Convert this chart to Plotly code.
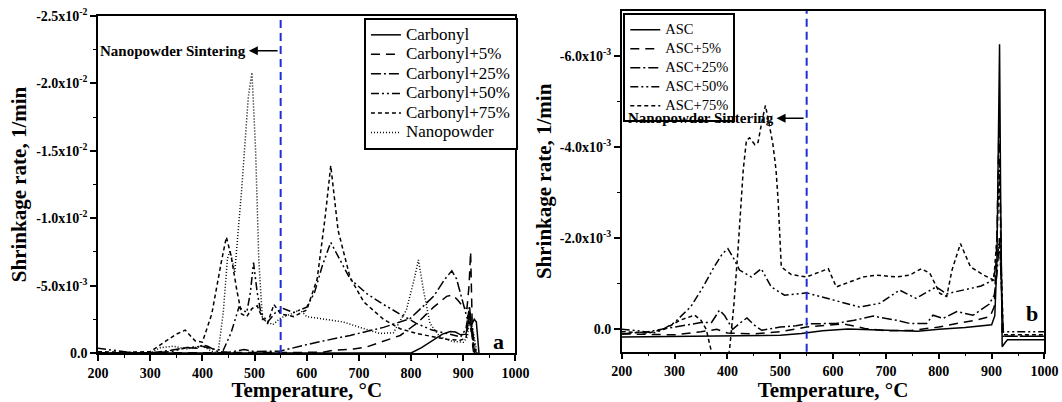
import numpy as np
import plotly.graph_objects as go

# ---------------- data (shrinkage rate in units of 1e-3 1/min) ----------------
# Panel a
T_CARB = [200, 800, 820, 843, 860, 875, 885, 895, 905, 909, 912, 915, 918, 921, 925, 928, 930]
CARB = [0, 0, -0.4, -0.95, -1.4, -1.6, -1.55, -1.35, -1.4, -2.2, -3.0, -2.0, -2.2, -2.5, -2.3, -1.0, 0]

T_C5 = [200, 600, 630, 651, 690, 715, 747, 779, 811, 843, 868, 880, 890, 900, 907, 911, 914, 916, 918, 920]
C5 = [0, 0, -0.05, -0.2, -0.3, -0.45, -0.9, -1.3, -2.2, -3.4, -4.2, -4.3, -3.9, -3.4, -3.3, -5.0, -7.5, -4.0, -0.5, 0]

T_C25 = [200, 300, 340, 370, 390, 400, 410, 430, 450, 480, 500, 550, 587, 620, 683, 747, 798, 843, 865, 878, 887, 900, 908, 912, 916, 922]
C25 = [0, 0, -0.2, -0.4, -0.35, -0.6, -0.5, -0.1, -0.05, -0.25, -0.1, -0.15, -0.5, -0.8, -1.3, -1.9, -2.55, -4.2, -5.5, -6.1, -5.5, -3.7, -2.5, -3.5, -1.5, 0]

T_C50 = [200, 230, 260, 300, 340, 370, 400, 420, 440, 455, 470, 485, 492, 498, 505, 512, 525, 540, 555, 575, 600, 615, 630, 646, 665, 683, 715, 747, 778, 810, 840, 870, 895, 905, 911, 915, 920, 925]
C50 = [-0.35, -0.2, -0.05, 0, -0.1, -0.4, -0.5, -0.3, -0.2, -1.5, -3.4, -3.0, -4.5, -6.7, -4.5, -3.0, -2.3, -3.0, -3.3, -3.0, -3.4, -4.5, -6.5, -8.2, -6.8, -5.5, -4.4, -3.6, -2.9, -2.2, -1.7, -1.4, -1.2, -1.8, -3.2, -2.5, -1.0, 0]

T_C75 = [200, 250, 300, 330, 350, 367, 386, 400, 418, 437, 446, 455, 466, 475, 485, 495, 505, 515, 525, 537, 550, 575, 600, 620, 635, 646, 660, 683, 709, 747, 779, 810, 843, 870, 894, 905, 911, 915, 920, 925]
C75 = [-0.1, -0.05, -0.1, -0.9, -1.4, -1.7, -0.9, -0.8, -2.9, -6.9, -8.6, -7.2, -4.65, -2.9, -2.7, -3.3, -3.5, -2.6, -2.2, -3.6, -2.9, -2.7, -3.2, -5.5, -10.0, -13.9, -9.1, -5.6, -3.8, -2.5, -1.8, -1.45, -1.2, -1.0, -0.95, -1.1, -2.5, -1.5, -0.5, 0]

T_NANO = [200, 300, 320, 345, 370, 400, 420, 430, 440, 448, 453, 462, 475, 488, 495, 502, 508, 515, 535, 550, 570, 587, 600, 625, 651, 670, 702, 740, 766, 791, 806, 814, 824, 836, 855, 880, 900, 908, 913, 917, 922, 926]
NANO = [0, 0, -0.4, -0.5, -0.3, -0.5, -0.1, 0, -3.0, -7.0, -7.6, -6.0, -12.0, -19.0, -20.8, -15.0, -7.0, -2.5, -2.1, -2.6, -2.9, -3.2, -2.7, -2.55, -2.4, -2.3, -1.9, -1.45, -1.5, -3.2, -5.5, -6.9, -4.6, -2.2, -1.2, -0.85, -0.8, -1.2, -3.0, -2.0, -1.0, 0]

# Panel b
T_ASC = [200, 300, 400, 500, 540, 580, 628, 700, 760, 800, 850, 900, 906, 910, 915, 917, 920, 925, 930, 1000]
ASC = [0.17, 0.16, 0.15, 0.13, 0.09, 0.03, -0.01, 0.02, 0.04, 0.0, -0.04, -0.1, -0.3, -1.5, -6.25, -3.0, 0.38, 0.3, 0.23, 0.23]

T_A5 = [200, 260, 300, 350, 380, 400, 450, 500, 550, 600, 620, 660, 700, 750, 800, 834, 870, 897, 905, 910, 914, 917, 920, 925, 1000]
A5 = [0.1, 0.12, 0.12, 0.05, 0.0, 0.08, 0.1, 0.05, -0.05, -0.1, -0.12, -0.02, 0.03, 0.02, -0.05, -0.13, -0.2, -0.28, -0.5, -2.0, -4.5, -2.5, 0.15, 0.15, 0.15]

T_A25 = [200, 250, 300, 350, 370, 385, 395, 410, 425, 437, 450, 465, 500, 530, 550, 580, 606, 640, 676, 720, 745, 777, 789, 808, 834, 865, 895, 905, 910, 915, 918, 922, 1000]
A25 = [0.1, 0.05, -0.05, -0.15, -0.15, -0.42, -0.3, 0.0, -0.15, -0.25, -0.1, 0.02, -0.05, -0.08, -0.12, -0.12, -0.13, -0.2, -0.29, -0.2, -0.13, -0.13, -0.31, -0.24, -0.39, -0.31, -0.55, -0.75, -1.2, -2.0, -1.0, 0.15, 0.15]

T_A50 = [200, 230, 260, 275, 300, 331, 355, 375, 390, 401, 412, 423, 445, 464, 483, 508, 550, 600, 650, 688, 726, 757, 795, 815, 846, 880, 903, 910, 915, 918, 922, 1000]
A50 = [0.0, 0.03, 0.08, 0.02, -0.15, -0.5, -0.95, -1.37, -1.65, -1.77, -1.55, -1.3, -1.15, -1.33, -0.93, -0.75, -0.8, -0.64, -0.49, -0.57, -0.86, -0.68, -0.93, -0.78, -0.86, -0.95, -1.08, -1.5, -2.0, -1.0, 0.05, 0.05]

T_A75 = [200, 250, 280, 310, 338, 350, 360, 369, 380, 398, 404, 412, 420, 430, 436, 442, 452, 458, 466, 472, 479, 486, 492, 496, 502, 521, 550, 575, 591, 606, 657, 682, 720, 745, 767, 783, 802, 815, 825, 841, 860, 885, 904, 910, 915, 918, 922, 1000]
A75 = [0.05, 0.08, 0.0, -0.2, -0.31, -0.2, 0.0, 0.45, 0.8, 0.8, 0.45, -0.5, -1.73, -3.5, -4.14, -4.2, -4.05, -4.1, -4.6, -4.91, -4.5, -4.07, -3.5, -2.83, -1.37, -1.2, -1.15, -1.25, -1.33, -0.93, -1.15, -1.19, -1.15, -1.19, -1.33, -1.23, -0.79, -0.72, -1.3, -1.88, -1.37, -1.19, -1.08, -2.0, -3.5, -1.5, 0.12, 0.12]

# tick labels
X_TICKS = [200, 300, 400, 500, 600, 700, 800, 900, 1000]
YA_TICKVALS = [0, -0.005, -0.010, -0.015, -0.020, -0.025]
YA_TICKTEXT = ["0.0", "-5.0x10<sup>-3</sup>", "-1.0x10<sup>-2</sup>", "-1.5x10<sup>-2</sup>",
               "-2.0x10<sup>-2</sup>", "-2.5x10<sup>-2</sup>"]
YA_MINOR = [-0.0025, -0.0075, -0.0125, -0.0175, -0.0225]
YB_TICKVALS = [0, -0.002, -0.004, -0.006]
YB_TICKTEXT = ["0.0", "-2.0x10<sup>-3</sup>", "-4.0x10<sup>-3</sup>", "-6.0x10<sup>-3</sup>"]
YB_MINOR = [-0.001, -0.003, -0.005]

SINTER_T = 550

# ---------------- figure ----------------
FONT = "Liberation Serif"
SCALE = 1e-3

fig = go.Figure()

styles = {
    "solid": "solid",
    "long": "9px,6px",
    "dashdot": "10px,3px,2px,3px",
    "dashdotdot": "8px,3px,2px,3px,2px,3px",
    "short": "4px,3px",
    "dot": "1px,2px",
}

def legend_label(text, size):
    return "<span style='font-size:%spx'>%s</span>" % (size, text)

left_series = [
    ("Carbonyl", T_CARB, CARB, "solid"),
    ("Carbonyl+5%", T_C5, C5, "long"),
    ("Carbonyl+25%", T_C25, C25, "dashdot"),
    ("Carbonyl+50%", T_C50, C50, "dashdotdot"),
    ("Carbonyl+75%", T_C75, C75, "short"),
    ("Nanopowder", T_NANO, NANO, "dot"),
]
for name, t, v, st in left_series:
    fig.add_trace(go.Scatter(x=t, y=np.array(v) * SCALE, mode="lines", name=legend_label(name, 17),
                             line=dict(color="black", width=1.5, dash=styles[st]),
                             xaxis="x", yaxis="y", legend="legend"))

right_series = [
    ("ASC", T_ASC, ASC, "solid"),
    ("ASC+5%", T_A5, A5, "long"),
    ("ASC+25%", T_A25, A25, "dashdot"),
    ("ASC+50%", T_A50, A50, "dashdotdot"),
    ("ASC+75%", T_A75, A75, "short"),
]
for name, t, v, st in right_series:
    fig.add_trace(go.Scatter(x=t, y=np.array(v) * SCALE, mode="lines", name=legend_label(name, 14.5),
                             line=dict(color="black", width=1.5, dash=styles[st]),
                             xaxis="x2", yaxis="y2", legend="legend2"))

tickfont = dict(family=FONT, size=14, color="black", weight="bold")
titlefont = dict(family=FONT, size=21, color="black", weight="bold")

def axis_common():
    return dict(showline=True, linecolor="black", linewidth=1.5, mirror=True,
                ticks="outside", ticklen=6, tickwidth=1.5, tickcolor="black",
                showgrid=False, zeroline=False, tickfont=tickfont, automargin=False)

xa = axis_common()
xa.update(domain=[0.0923, 0.4854], range=[200, 1000], tickmode="array", tickvals=X_TICKS,
          minor=dict(ticks="outside", ticklen=3, tickwidth=1.2, tickcolor="black", dtick=50, tick0=200),
          title=dict(text="Temperature, °C", font=titlefont, standoff=4), anchor="y")
xb = axis_common()
xb.update(domain=[0.5854, 0.9835], range=[200, 1000], tickmode="array", tickvals=X_TICKS,
          minor=dict(ticks="outside", ticklen=3, tickwidth=1.2, tickcolor="black", dtick=50, tick0=200),
          title=dict(text="Temperature, °C", font=titlefont, standoff=4), anchor="y2")
ya = axis_common()
ya.update(domain=[0.1219, 0.9602], range=[0, -0.025], tickmode="array",
          tickvals=YA_TICKVALS, ticktext=YA_TICKTEXT,
          minor=dict(ticks="outside", ticklen=3, tickwidth=1.2, tickcolor="black",
                     tickmode="array", tickvals=YA_MINOR),
          title=dict(text="Shrinkage rate, 1/min", font=titlefont, standoff=4), anchor="x")
yb = axis_common()
yb.update(domain=[0.1251, 0.9726], range=[0.00049, -0.00698], tickmode="array",
          tickvals=YB_TICKVALS, ticktext=YB_TICKTEXT,
          minor=dict(ticks="outside", ticklen=3, tickwidth=1.2, tickcolor="black",
                     tickmode="array", tickvals=YB_MINOR),
          title=dict(text="Shrinkage rate, 1/min", font=titlefont, standoff=2), anchor="x2")

fig.update_layout(
    width=1062, height=402,
    margin=dict(l=0, r=0, t=0, b=0),
    paper_bgcolor="white", plot_bgcolor="white",
    xaxis=xa, yaxis=ya, xaxis2=xb, yaxis2=yb,
    showlegend=True,
    legend=dict(x=0.3427, y=0.955, xanchor="left", yanchor="top",
                bgcolor="white", bordercolor="black", borderwidth=2,
                font=dict(family=FONT, size=12.7, color="black"),
                tracegroupgap=0, maxheight=300),
    legend2=dict(x=0.5869, y=0.967, xanchor="left", yanchor="top",
                 bgcolor="white", bordercolor="black", borderwidth=2,
                 font=dict(family=FONT, size=12, color="black"),
                 tracegroupgap=0, maxheight=300),
)

# sintering lines
for xr, yr in (("x", "y"), ("x2", "y2")):
    fig.add_shape(type="line", xref=xr, yref=yr + " domain", x0=SINTER_T, x1=SINTER_T, y0=0, y1=1,
                  line=dict(color="#1f2fd6", width=2, dash="8px,5px"))

annfont = dict(family=FONT, size=15, color="black", weight="bold")
# panel a annotation
fig.add_annotation(x=488, y=-0.02242, xref="x", yref="y", text="Nanopowder Sintering",
                   showarrow=False, xanchor="right", yanchor="middle", font=annfont)
fig.add_annotation(x=489, y=-0.02242, ax=SINTER_T - 3, ay=-0.02242, xref="x", yref="y",
                   axref="x", ayref="y", text="", showarrow=True, arrowhead=2, arrowsize=1.2,
                   arrowwidth=1.5, arrowcolor="black")
# panel b annotation
fig.add_annotation(x=492, y=-0.00463, xref="x2", yref="y2", text="Nanopowder Sintering",
                   showarrow=False, xanchor="right", yanchor="middle", font=annfont)
fig.add_annotation(x=493, y=-0.00463, ax=SINTER_T - 3, ay=-0.00463, xref="x2", yref="y2",
                   axref="x2", ayref="y2", text="", showarrow=True, arrowhead=2, arrowsize=1.2,
                   arrowwidth=1.5, arrowcolor="black")

# panel letters
fig.add_annotation(x=968, y=-0.00085, xref="x", yref="y", text="a", showarrow=False,
                   font=dict(family=FONT, size=22, color="black", weight="bold"))
fig.add_annotation(x=976, y=-0.00035, xref="x2", yref="y2", text="b", showarrow=False,
                   font=dict(family=FONT, size=22, color="black", weight="bold"))

fig.write_html("out.html", config={"displayModeBar": False},
               post_script="document.body.style.margin='0px';document.body.style.padding='0px';")
